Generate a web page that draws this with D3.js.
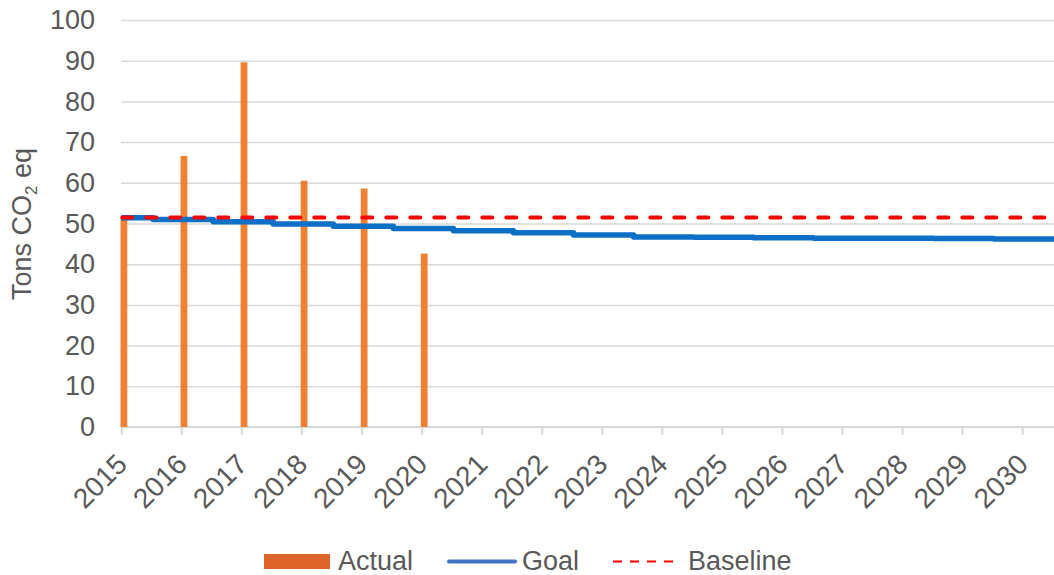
<!DOCTYPE html>
<html>
<head>
<meta charset="utf-8">
<script src="https://cdn.jsdelivr.net/npm/d3@7"></script>
<style>
  body { margin: 0; background: #fff; }
  svg { display: block; font-family: "Liberation Sans", Arial, sans-serif; }
</style>
</head>
<body>
<svg id="chart" width="1054" height="575"></svg>
<script>
// actual emissions, one bar per year
const actualYears = [2015, 2016, 2017, 2018, 2019, 2020]
const actualValues = [51.6, 66.6, 89.6, 60.5, 58.6, 42.6]

// goal is a step line, it drops a bit each mid year
const goalStarts = [2015, 2015.53, 2016.53, 2017.53, 2018.53, 2019.53, 2020.53, 2021.53,
  2022.53, 2023.53, 2024.53, 2025.53, 2026.53, 2027.53, 2028.53, 2029.53, 2030.53]
const goalValues = [51.4, 51.0, 50.4, 49.9, 49.3, 48.8, 48.2, 47.7,
  47.2, 46.7, 46.6, 46.5, 46.4, 46.4, 46.3, 46.2, 46.2]

const baselineValue = 51.5

const yearTicks = d3.range(2015, 2031)
const yTicks = d3.range(0, 101, 10)

const textColor = '#595959'
const gridColor = '#d9d9d9'

const svg = d3.select('#chart')

let x = d3.scaleLinear().domain([2015, 2030.53]).range([121.3, 1054])
let y = d3.scaleLinear().domain([0, 100]).range([427, 20])

// horizontal gridlines + y labels
let yAxis = svg.append('g')
  .attr('transform', 'translate(121,0)')
  .call(d3.axisLeft(y).tickValues(yTicks).tickSize(0).tickPadding(26))
yAxis.select('.domain').remove()
yAxis.selectAll('text')
  .attr('fill', textColor)
  .style('font-size', '27px')
yAxis.selectAll('.tick line')
  .attr('x2', 1054 - 121)
  .attr('stroke', gridColor)
  .attr('stroke-width', 1.5)

// bottom axis with year ticks
let xAxis = svg.append('g')
  .attr('transform', 'translate(0,' + y(0) + ')')
  .call(d3.axisBottom(x).tickValues(yearTicks).tickFormat(d3.format('d')).tickSize(8).tickSizeOuter(0))
xAxis.select('.domain')
  .attr('stroke', gridColor)
  .attr('stroke-width', 2)
  .attr('d', 'M121,0H1054')
xAxis.selectAll('.tick line')
  .attr('stroke', gridColor)
  .attr('stroke-width', 2)
xAxis.selectAll('.tick text')
  .attr('fill', textColor)
  .style('font-size', '28px')
  .attr('text-anchor', 'end')
  .attr('y', 0)
  .attr('dy', 0)
  .attr('transform', 'translate(7,39) rotate(-45)')

// bars
svg.append('g')
  .selectAll('rect')
  .data(actualYears)
  .enter().append('rect')
    .attr('x', d => x(d) - 0.8)
    .attr('width', 6.8)
    .attr('y', (d, i) => y(actualValues[i]))
    .attr('height', (d, i) => y(0) - y(actualValues[i]))
    .attr('fill', '#ef8133')

// goal line
let goalLine = d3.line()
  .curve(d3.curveStepAfter)
  .x(d => x(d[0]))
  .y(d => y(d[1]))

svg.append('path')
  .datum(goalStarts.map((s, i) => [s, goalValues[i]]))
  .attr('d', goalLine)
  .attr('fill', 'none')
  .attr('stroke', '#0e6fc7')
  .attr('stroke-width', 5.5)
  .attr('stroke-linejoin', 'round')

// baseline, dashed red
svg.append('line')
  .attr('x1', x(2015) + 1)
  .attr('x2', 1054)
  .attr('y1', y(baselineValue))
  .attr('y2', y(baselineValue))
  .attr('stroke', '#ff0000')
  .attr('stroke-width', 4)
  .attr('stroke-dasharray', '10,14')
  .attr('stroke-linecap', 'round')

// y axis title
let yTitle = svg.append('text')
  .attr('transform', 'translate(31,224) rotate(-90)')
  .attr('text-anchor', 'middle')
  .attr('fill', textColor)
  .style('font-size', '27px')
yTitle.append('tspan').text('Tons CO')
yTitle.append('tspan').text('2').style('font-size', '17px').attr('dy', 6)
yTitle.append('tspan').text(' eq').attr('dy', -6)

// legend
let legend = svg.append('g').style('font-size', '27px').attr('fill', textColor)
legend.append('rect')
  .attr('x', 264).attr('y', 554).attr('width', 66).attr('height', 15)
  .attr('fill', '#de652a')
legend.append('text').attr('x', 338).attr('y', 570).text('Actual')
legend.append('line')
  .attr('x1', 449).attr('x2', 515).attr('y1', 561.5).attr('y2', 561.5)
  .attr('stroke', '#4472c4').attr('stroke-width', 4).attr('stroke-linecap', 'round')
legend.append('text').attr('x', 522).attr('y', 570).text('Goal')
legend.append('line')
  .attr('x1', 613).attr('x2', 680).attr('y1', 561.5).attr('y2', 561.5)
  .attr('stroke', '#ff0000').attr('stroke-width', 2).attr('stroke-dasharray', '9,8')
legend.append('text').attr('x', 688).attr('y', 570).text('Baseline')
</script>
</body>
</html>
